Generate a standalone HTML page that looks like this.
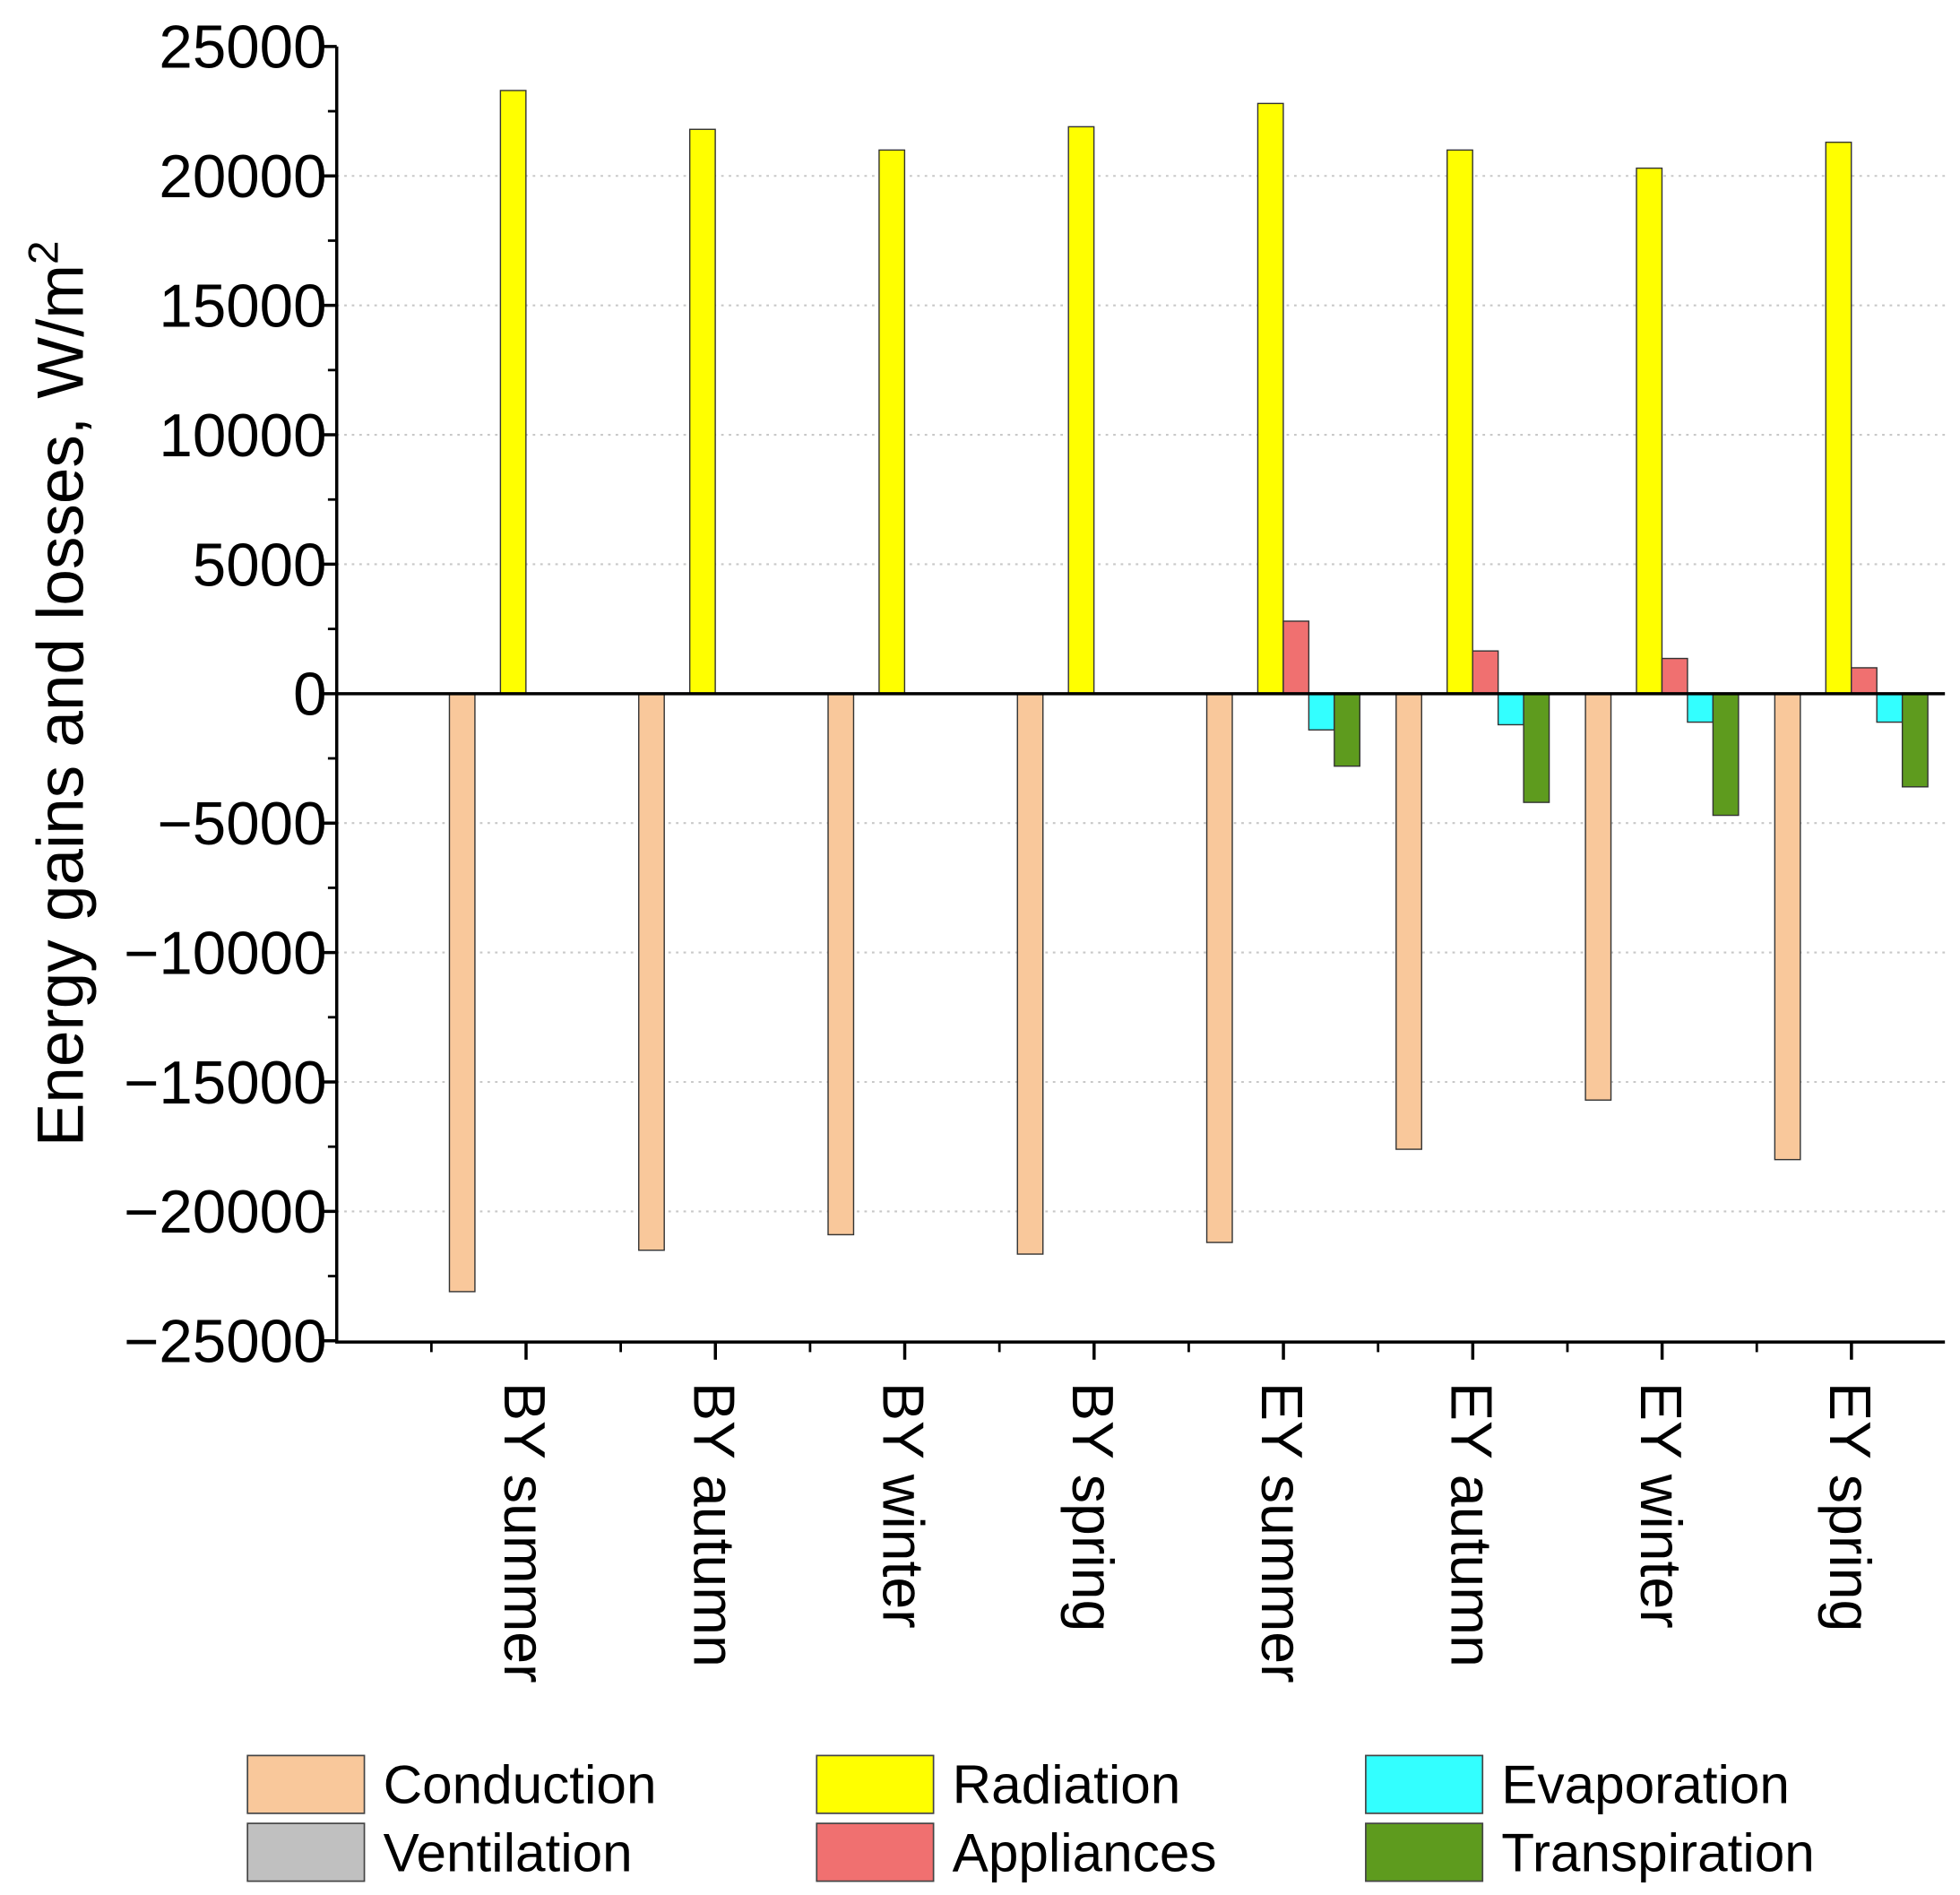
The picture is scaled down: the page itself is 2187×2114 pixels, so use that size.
<!DOCTYPE html>
<html><head><meta charset="utf-8"><style>
html,body{margin:0;padding:0;background:#fff}
svg{display:block}
text{font-family:"Liberation Sans",Arial,sans-serif;fill:#000}
</style></head><body>
<svg id="chart" width="2187" height="2114" viewBox="0 0 1560 1508" preserveAspectRatio="none" xmlns="http://www.w3.org/2000/svg">
<g id="grid"></g><g id="bars"></g><g id="axes"></g><g id="legend"></g>
</svg>
<script>
const categories = ["BY summer","BY autumn","BY winter","BY spring","EY summer","EY autumn","EY winter","EY spring"];
const seriesNames = ["Conduction","Ventilation","Radiation","Appliances","Evaporation","Transpiration"];
const conduction = [-23100,-21500,-20900,-21650,-21200,-17600,-15700,-18000];
const ventilation = [0,0,0,0,0,0,0,0];
const radiation = [23300,21800,21000,21900,22800,21000,20300,21300];
const appliances = [0,0,0,0,2800,1650,1360,1000];
const evaporation = [0,0,0,0,-1400,-1200,-1100,-1100];
const transpiration = [0,0,0,0,-2800,-4200,-4700,-3600];
const yTicks = [-25000,-20000,-15000,-10000,-5000,0,5000,10000,15000,20000,25000];
const seriesColors = ["#F9C89B","#C0C0C0","#FFFF00","#F07070","#33FFFF","#5E9B1E"];
const seriesData = [conduction,ventilation,radiation,appliances,evaporation,transpiration];

const NS="http://www.w3.org/2000/svg";
const X0=268,X1=1548,Y0=37,Y1=1068,STEP=150.7;
const y=v=>552-(v/25000)*(552-Y0);
const x=i=>X0+STEP*(i+1);
function mk(tag,attrs,parent){const e=document.createElementNS(NS,tag);for(const k in attrs)e.setAttribute(k,attrs[k]);parent.appendChild(e);return e;}
const grid=document.getElementById('grid'),bars=document.getElementById('bars'),axes=document.getElementById('axes'),legend=document.getElementById('legend');

yTicks.forEach(t=>{
  if(t!==0&&Math.abs(t)!==25000){const g=mk('line',{x1:X0,x2:X1,y1:y(t),y2:y(t),stroke:'#c8c8c8','stroke-width':1.5,'stroke-dasharray':'2,4'},grid);
  
  }
  const tk=mk('line',{x1:X0-14,x2:X0,y1:y(t),y2:y(t),stroke:'#000','stroke-width':2.5},axes);
  
  
  const lb=mk('text',{x:X0-8,y:y(t)+17,'text-anchor':'end','font-size':48},axes);
  lb.textContent=(t<0?'\u2212':'')+Math.abs(t);
  
  
});
for(let i=0;i<yTicks.length-1;i++){const m=(yTicks[i]+yTicks[i+1])/2;
  const tk=mk('line',{x1:X0-7,x2:X0,y1:y(m),y2:y(m),stroke:'#000','stroke-width':2},axes);
  
  }

const BW=20.3;
categories.forEach((c,i)=>{
  seriesData.forEach((arr,s)=>{
    const v=arr[i]; if(v===0) return;
    const bx=x(i)-61+s*BW;
    const r=mk('rect',{x:bx,y:Math.min(y(v),y(0)),width:BW,height:Math.abs(y(v)-y(0)),fill:seriesColors[s],stroke:'#333','stroke-width':1},bars);
    
    
  });
  const tk=mk('line',{x1:x(i),x2:x(i),y1:Y1,y2:Y1+14,stroke:'#000','stroke-width':2.5},axes);
  
  
  const mt=mk('line',{x1:x(i)-STEP/2,x2:x(i)-STEP/2,y1:Y1,y2:Y1+8,stroke:'#000','stroke-width':2},axes);
  
  
  const lb=mk('text',{x:0,y:0,'font-size':46,transform:`translate(${x(i)-17},1100) rotate(90)`},axes);
  lb.textContent=c;
  
  
});
const zl=mk('line',{x1:X0,x2:X1,y1:y(0),y2:y(0),stroke:'#000','stroke-width':2.5},axes);


const ya=mk('line',{x1:X0,x2:X0,y1:Y0,y2:Y1+1,stroke:'#000','stroke-width':2.5},axes);


const xa=mk('line',{x1:X0-1,x2:X1,y1:Y1,y2:Y1,stroke:'#000','stroke-width':2.5},axes);


const yt=mk('text',{x:0,y:0,'font-size':52,'text-anchor':'middle',transform:'translate(66,552) rotate(-90)'},axes);
yt.innerHTML='Energy gains and losses, W/m<tspan dy="-20" font-size="34">2</tspan>';



const legendOrder=[0,2,4,1,3,5];
const colX=[197,650,1087];
legendOrder.forEach((s,k)=>{
  const col=k%3,row=Math.floor(k/3);
  const bx=colX[col],by=1397+row*54;
  const r=mk('rect',{x:bx,y:by,width:93,height:46,fill:seriesColors[s],stroke:'#444','stroke-width':1.2},legend);
  
  
  const t=mk('text',{x:bx+108,y:by+38,'font-size':43},legend);
  t.textContent=seriesNames[s];
  
  
});
</script>
</body></html>
